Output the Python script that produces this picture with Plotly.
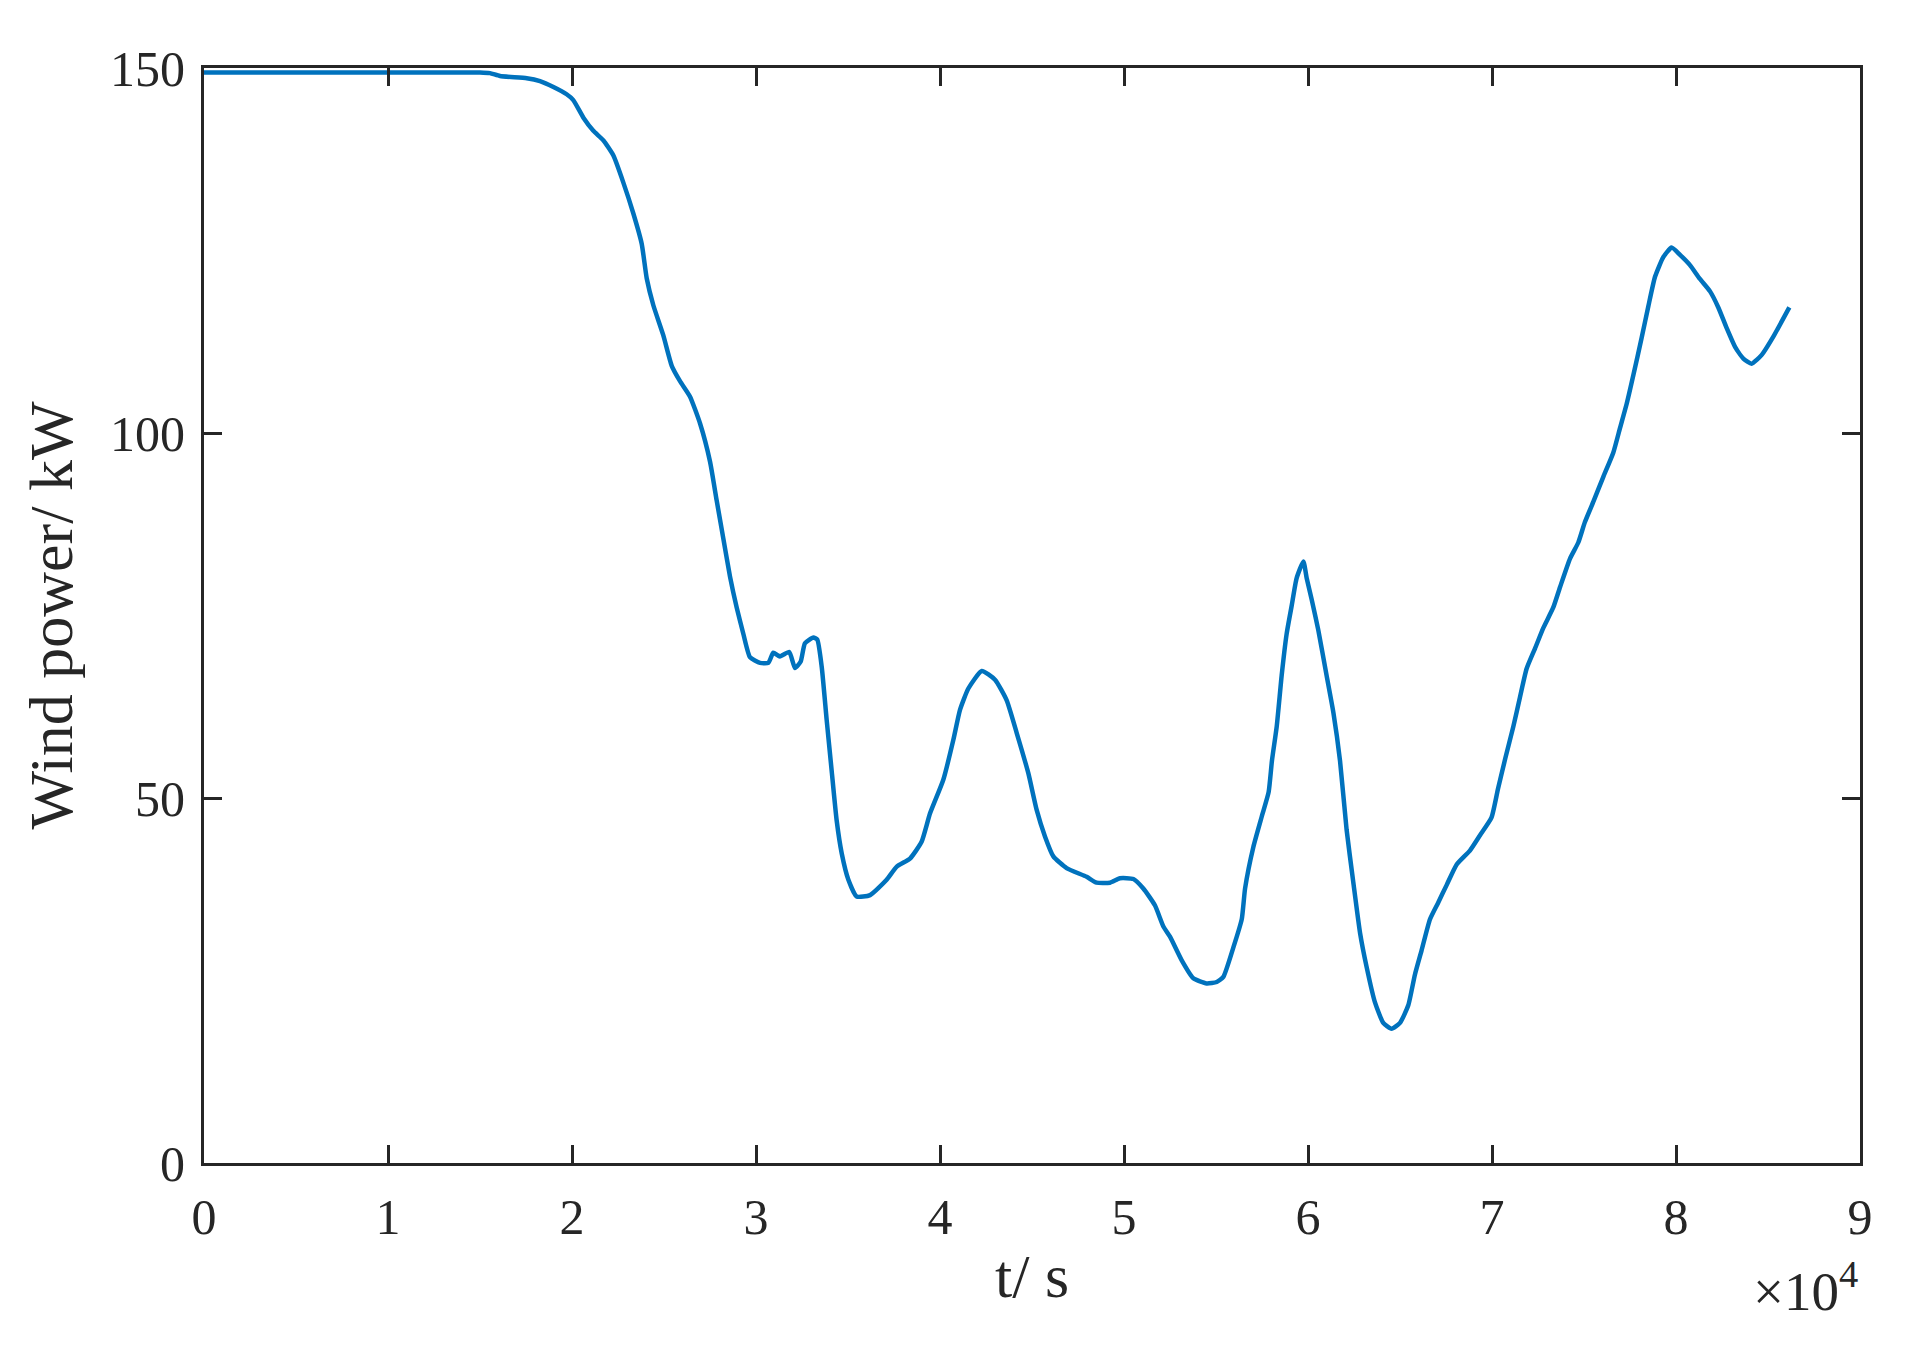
import plotly.graph_objects as go

# time in seconds, wind power in kW
t = [0, 15000, 15540, 16090, 17540, 18260, 18990, 19710, 20070, 20620, 21160, 21700,
     22250, 22790, 23330, 23790, 24060, 24420, 24960, 25420, 25870, 26410, 26960,
     27500, 27860, 28220, 28590, 28950, 29310, 29670, 30220, 30670, 30940, 31300,
     31810, 32120, 32430, 32660, 33120, 33330, 33570, 33840, 34110, 34380, 34660,
     35020, 35470, 36200, 37100, 37650, 38370, 39000, 39460, 40180, 40720, 41090,
     41540, 42270, 42990, 43620, 44170, 44800, 45250, 45710, 46160, 46880, 47970,
     48510, 49240, 49780, 50510, 51050, 51680, 52140, 52500, 53130, 53770, 54490,
     55040, 55400, 55940, 56400, 56580, 57030, 57490, 57860, 58040, 58300, 58570,
     58840, 59110, 59380, 59750, 59930, 60200, 60560, 61010, 61380, 61740, 62100,
     62460, 62830, 63190, 63640, 64090, 64540, 65000, 65450, 65810, 66170, 66630,
     67080, 67540, 68080, 68800, 69350, 69970, 70330, 70720, 71160, 71520, 71880,
     72340, 72790, 73330, 73700, 74240, 74690, 75050, 75510, 76050, 76590, 76960,
     77320, 77680, 78130, 78500, 78860, 79310, 79760, 80220, 80760, 81300, 81850,
     82300, 82750, 83210, 83660, 84110, 84660, 85290, 86160]
power = [149.4, 149.4, 149.3, 148.9, 148.6, 148.2, 147.4, 146.4, 145.6, 143.2, 141.4, 140.1,
         138.0, 134.3, 130.1, 125.9, 121.2, 117.5, 113.4, 109.2, 107.1, 105.0, 101.3,
         96.1, 90.8, 85.6, 80.3, 76.1, 72.5, 69.3, 68.5, 68.5, 69.9, 69.4,
         70.0, 67.8, 68.7, 71.2, 72.0, 71.7, 68.0, 60.7, 53.8, 47.0, 42.4,
         38.8, 36.5, 36.7, 38.8, 40.6, 41.7, 44.0, 47.9, 52.5, 57.9, 62.1,
         65.0, 67.4, 66.2, 63.4, 58.9, 53.4, 48.4, 44.7, 42.0, 40.4, 39.2,
         38.4, 38.4, 39.0, 38.9, 37.6, 35.3, 32.4, 31.0, 27.8, 25.3, 24.6,
         24.8, 25.5, 29.5, 33.4, 37.6, 43.3, 47.5, 50.8, 55.1, 59.8, 66.8,
         72.5, 76.3, 80.1, 82.4, 80.1, 77.2, 73.0, 66.8, 61.7, 55.1, 45.6,
         38.5, 31.5, 26.8, 22.0, 19.2, 18.4, 19.2, 21.6, 25.8, 29.1, 33.4,
         35.7, 38.1, 40.9, 42.8, 44.9, 47.3, 51.3, 55.4, 59.8, 63.8, 67.7,
         70.5, 73.3, 76.1, 78.9, 82.8, 85.0, 87.8, 90.6, 94.0, 97.3, 100.7,
         104.0, 107.9, 113.0, 117.4, 121.4, 124.1, 125.4, 124.4, 123.0, 121.1,
         119.4, 117.2, 114.4, 111.8, 110.2, 109.5, 110.7, 113.2, 117.2]

x_tick_vals = [0, 10000, 20000, 30000, 40000, 50000, 60000, 70000, 80000, 90000]
x_tick_text = ["0", "1", "2", "3", "4", "5", "6", "7", "8", "9"]
y_tick_vals = [0, 50, 100, 150]
y_tick_text = ["0", "50", "100", "150"]

FONT = "Liberation Serif, Times New Roman, serif"
AX = "#262626"

fig = go.Figure()
fig.add_trace(go.Scatter(x=t, y=power, mode="lines",
                         line=dict(color="#0072BD", width=4.5, shape="spline", smoothing=0.5),
                         showlegend=False))

axis_common = dict(showline=True, linecolor=AX, linewidth=3, mirror="ticks",
                   ticks="inside", ticklen=18, tickwidth=3, tickcolor=AX,
                   showgrid=False, zeroline=False, automargin=False,
                   tickfont=dict(family=FONT, size=50, color=AX))

# the page body adds an 8 px margin, so the figure is 8 px smaller each way
fig.update_layout(
    width=1907, height=1345,
    margin=dict(l=196, r=55, t=60, b=190),
    paper_bgcolor="white", plot_bgcolor="white",
    xaxis=dict(range=[0, 90000], tickvals=x_tick_vals, ticktext=x_tick_text,
               title=dict(text="t/ s", font=dict(family=FONT, size=62, color=AX), standoff=10),
               **axis_common),
    yaxis=dict(range=[0, 150], tickvals=y_tick_vals, ticktext=y_tick_text,
               title=dict(text="Wind power/ kW", font=dict(family=FONT, size=62, color=AX), standoff=18),
               **axis_common),
)
fig.update_xaxes(ticklabelstandoff=8)
fig.update_yaxes(ticklabelstandoff=6)

fig.add_annotation(x=1, y=0, xref="paper", yref="paper", xanchor="right", yanchor="top",
                   yshift=-88, text="×10<sup>4</sup>", showarrow=False,
                   font=dict(family=FONT, size=55, color=AX))

fig.write_html("out.html")
